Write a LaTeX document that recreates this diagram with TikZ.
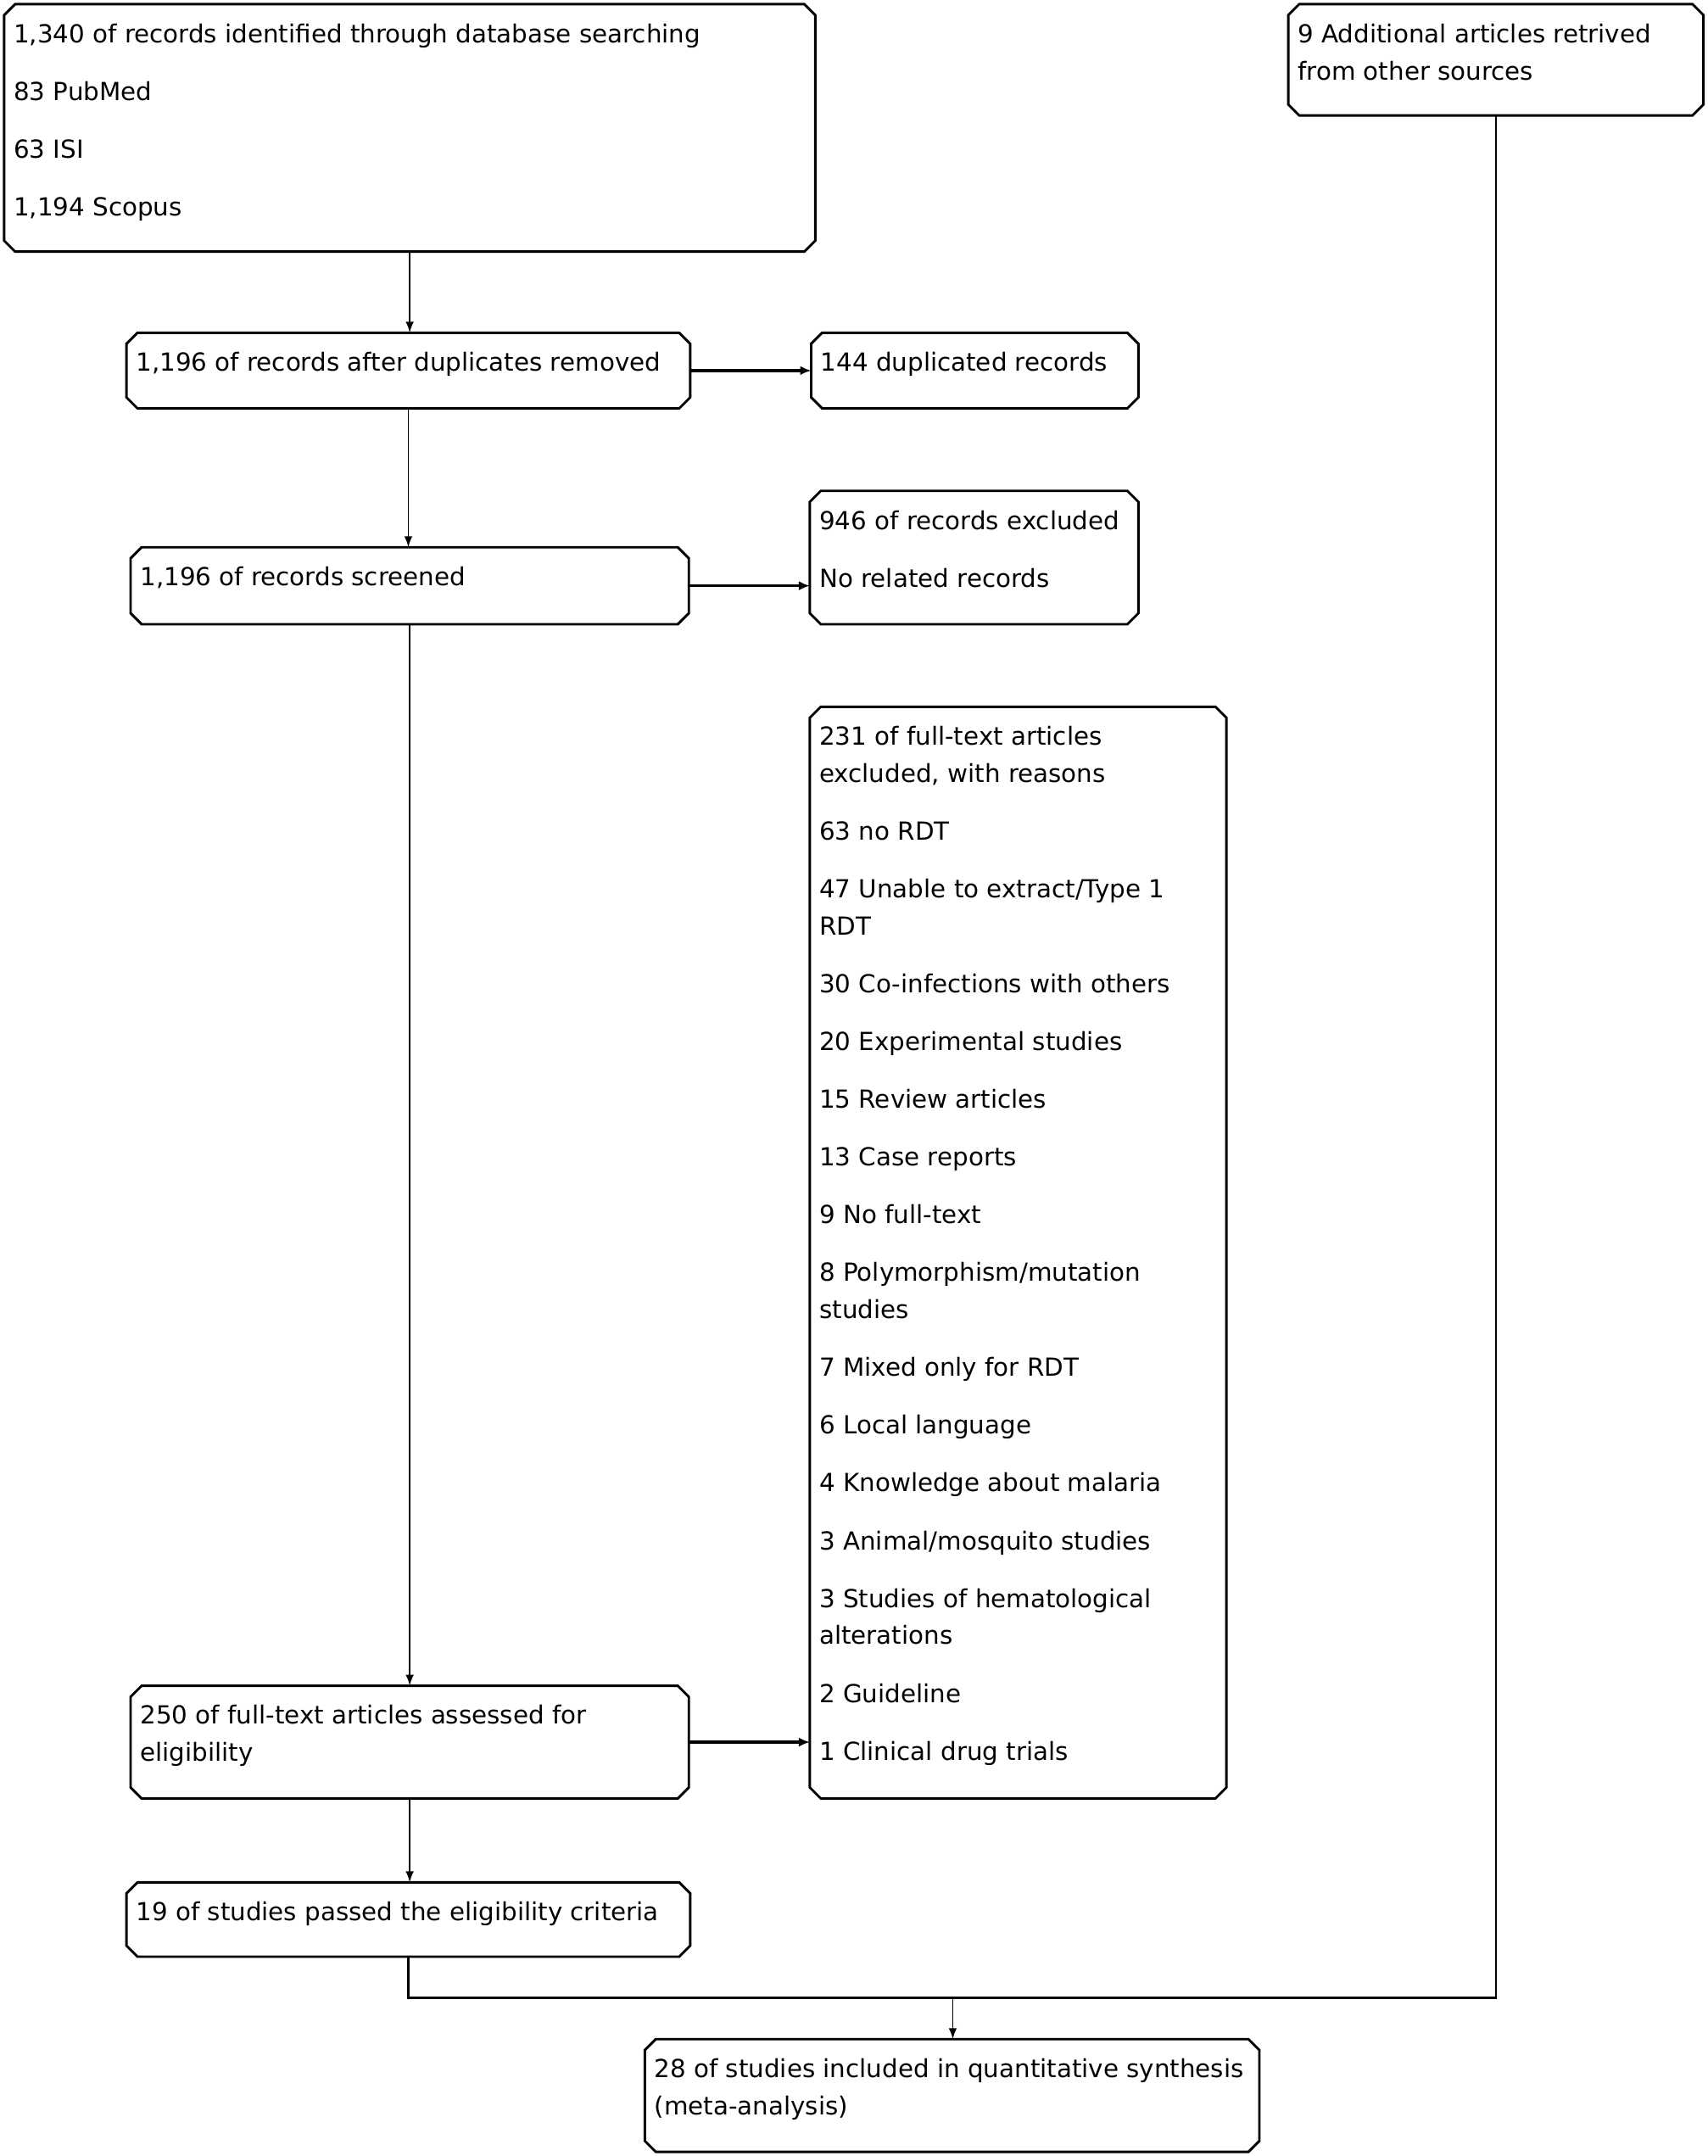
\documentclass[tikz,border=0pt]{standalone}
\usepackage{fontspec}
\setmainfont{DejaVu Sans}
\usetikzlibrary{shapes.misc,arrows.meta}
\newcommand\boxtext[3]{\parbox[c][#2][t]{#1}{\fontsize{9.05pt}{13.5pt}\selectfont\raggedright\leftskip=1.5pt\parskip=7.5pt\parindent=0pt\rule{0pt}{12pt}#3}}
\newcommand\bx[6]{\node[box] (#1) at ({(#2+#4)/2},{(#3+#5)/2}) {\boxtext{\dimexpr(#4pt-#2pt)/2-4pt\relax}{\dimexpr(#5pt-#3pt)/2-4pt\relax}{#6}};}
\tikzset{
  box/.style={draw, chamfered rectangle, chamfered rectangle xsep=2pt, chamfered rectangle ysep=2pt, line width=0.9pt, inner sep=0pt, outer sep=0pt},
  varr/.style={line width=0.6pt, -{Latex[length=4pt,width=3pt]}},
  harr/.style={line width=1pt, -{Latex[length=4pt,width=3.4pt]}},
  link/.style={line width=0.8pt}
}
\begin{document}
\begin{tikzpicture}[x=0.5pt,y=-0.5pt]
\useasboundingbox[fill=white] (0,0) rectangle (1242,1568);
\bx{A}{3}{3}{593}{183}{1,340 of records identified through database searching\par 83 PubMed\par 63 ISI\par 1,194 Scopus}
\bx{B}{937}{3}{1239}{84}{9 Additional articles retrived\\from other sources}
\bx{C}{92}{242}{502}{297}{1,196 of records after duplicates removed}
\bx{D}{590}{242}{828}{297}{144 duplicated records}
\bx{E}{95}{398}{501}{454}{1,196 of records screened}
\bx{F}{589}{357}{828}{454}{946 of records excluded\par No related records}
\bx{G}{589}{514}{892}{1308}{231 of full-text articles\\excluded, with reasons\par 63 no RDT\par 47 Unable to extract/Type 1\\RDT\par 30 Co-infections with others\par 20 Experimental studies\par 15 Review articles\par 13 Case reports\par 9 No full-text\par 8 Polymorphism/mutation\\studies\par 7 Mixed only for RDT\par 6 Local language\par 4 Knowledge about malaria\par 3 Animal/mosquito studies\par 3 Studies of hematological\\alterations\par 2 Guideline\par 1 Clinical drug trials}
\bx{H}{95}{1226}{501}{1308}{250 of full-text articles assessed for\\eligibility}
\bx{I}{92}{1369}{502}{1423}{19 of studies passed the eligibility criteria}
\bx{J}{469}{1483}{916}{1565}{28 of studies included in quantitative synthesis\\(meta-analysis)}
\coordinate (m) at (693,1453);
\draw[varr] (A.south) -- (A.south |- C.north);
\draw[harr] (C.east) -- (C.east -| D.west);
\draw[varr] (C.south) -- (C.south |- E.north);
\draw[harr] (E.east) -- (E.east -| F.west);
\draw[varr] (E.south) -- (E.south |- H.north);
\draw[harr] (H.east) -- (H.east -| G.west);
\draw[varr] (H.south) -- (H.south |- I.north);
\draw[link] (I.south) |- (B.south |- m) -- (B.south);
\draw[varr] (m) -- (m |- J.north);
\end{tikzpicture}
\end{document}
